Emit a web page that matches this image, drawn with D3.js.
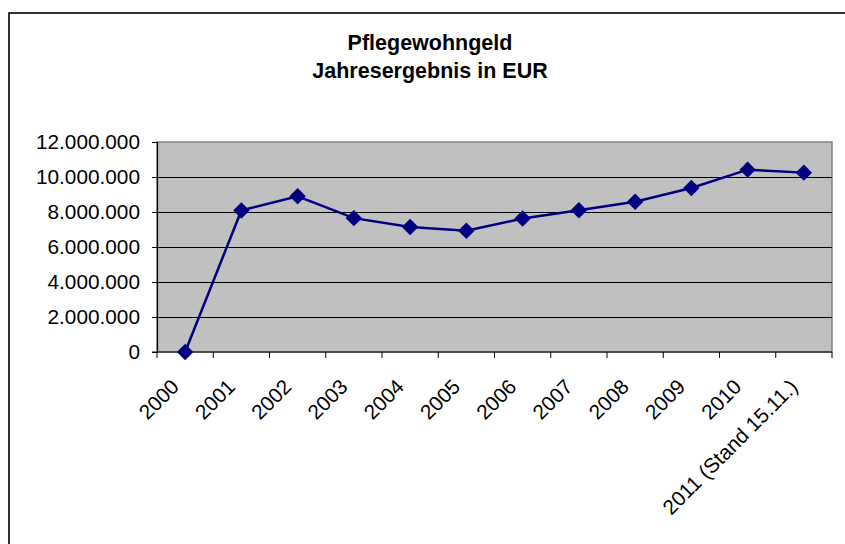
<!DOCTYPE html>
<html>
<head>
<meta charset="utf-8">
<script src="https://cdn.jsdelivr.net/npm/d3@7"></script>
<style>
  html, body { margin: 0; padding: 0; background: #fff; }
  svg { display: block; font-family: "Liberation Sans", Arial, sans-serif; }
</style>
</head>
<body>
<svg width="845" height="544"></svg>
<script>
const titleLines = ['Pflegewohngeld', 'Jahresergebnis in EUR'];
const years = ['2000', '2001', '2002', '2003', '2004', '2005', '2006', '2007', '2008', '2009', '2010', '2011 (Stand 15.11.)'];
const values = [0, 8090000, 8900000, 7650000, 7140000, 6930000, 7630000, 8100000, 8590000, 9370000, 10420000, 10250000];
const yTicks = [0, 2000000, 4000000, 6000000, 8000000, 10000000, 12000000];

const svg = d3.select('svg');
const plot = { left: 157, right: 832, top: 142, bottom: 352 };

// outer chart frame (right and bottom run off the picture)
svg.append('rect')
  .attr('x', 9).attr('y', 13)
  .attr('width', 860).attr('height', 560)
  .attr('fill', '#fff')
  .attr('stroke', '#000')
  .attr('stroke-width', 1.6);

svg.append('g')
  .selectAll('text')
  .data(titleLines)
  .enter()
  .append('text')
  .attr('x', 430)
  .attr('y', (d, i) => 50 + i * 28)
  .attr('text-anchor', 'middle')
  .attr('font-weight', 'bold')
  .attr('font-size', 21.5)
  .text(d => d);

const x = d3.scaleBand()
  .domain(years)
  .range([plot.left, plot.right]);
const y = d3.scaleLinear()
  .domain([0, 12000000])
  .range([plot.bottom, plot.top]);

const fmt = v => d3.format(',')(v).replace(/,/g, '.');

svg.append('rect')
  .attr('x', plot.left).attr('y', plot.top)
  .attr('width', plot.right - plot.left)
  .attr('height', plot.bottom - plot.top)
  .attr('fill', '#c0c0c0')
  .attr('stroke', '#808080')
  .attr('stroke-width', 1.5);

// gridlines
svg.append('g')
  .selectAll('line')
  .data(yTicks.filter(d => d > 0 && d < 12000000))
  .enter()
  .append('line')
  .attr('x1', plot.left).attr('x2', plot.right)
  .attr('y1', d => Math.round(y(d)) + 0.5)
  .attr('y2', d => Math.round(y(d)) + 0.5)
  .attr('stroke', '#000')
  .attr('stroke-width', 1.2);

const yAxis = svg.append('g')
  .attr('transform', `translate(${plot.left},0)`)
  .call(d3.axisLeft(y).tickValues(yTicks).tickFormat(fmt).tickSize(5).tickPadding(12));
yAxis.select('.domain').attr('stroke', '#000').attr('stroke-width', 1.2);
yAxis.selectAll('text')
  .attr('font-size', 20.8)
  .attr('fill', '#000')
  .attr('font-family', '"Liberation Sans", Arial, sans-serif');

// x axis with ticks on category boundaries
const xAxis = svg.append('g')
  .attr('transform', `translate(0,${plot.bottom})`);
xAxis.append('line')
  .attr('x1', plot.left - 5).attr('x2', plot.right)
  .attr('stroke', '#000').attr('stroke-width', 1.2);
xAxis.selectAll('.tick')
  .data(d3.range(years.length + 1))
  .enter()
  .append('line')
  .attr('x1', i => plot.left + i * x.step())
  .attr('x2', i => plot.left + i * x.step())
  .attr('y1', 0).attr('y2', 6)
  .attr('stroke', '#000');
xAxis.selectAll('text')
  .data(years)
  .enter()
  .append('text')
  .attr('transform', d => `translate(${x(d) + x.bandwidth() / 2 - 10},${31}) rotate(-45)`)
  .attr('text-anchor', 'end')
  .attr('dy', '0.35em')
  .attr('font-size', 20.8)
  .text(d => d);

const line = d3.line()
  .x((d, i) => x(years[i]) + x.bandwidth() / 2)
  .y(d => y(d));

svg.append('path')
  .datum(values)
  .attr('d', line)
  .attr('fill', 'none')
  .attr('stroke', '#000080')
  .attr('stroke-width', 2.5);

svg.append('g')
  .selectAll('path')
  .data(values)
  .enter()
  .append('path')
  .attr('d', d3.symbol().type(d3.symbolSquare).size(135))
  .attr('transform', (d, i) => `translate(${x(years[i]) + x.bandwidth() / 2},${y(d)}) rotate(45)`)
  .attr('fill', '#000080');
</script>
</body>
</html>
